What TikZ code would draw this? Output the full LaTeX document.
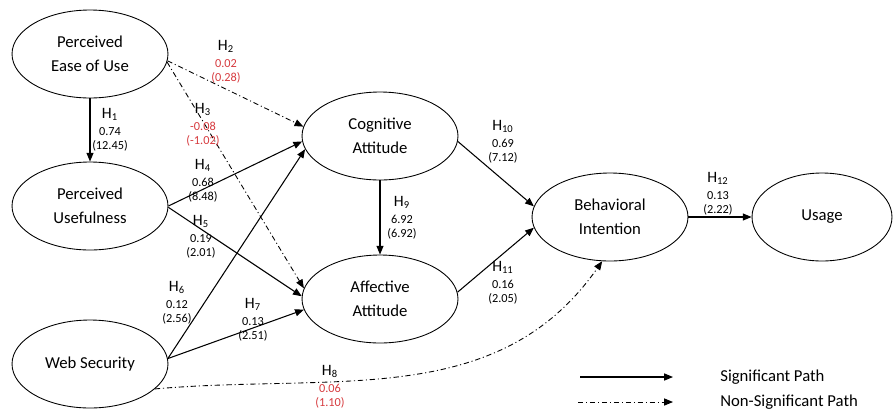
\documentclass[tikz,border=0pt]{standalone}
\usepackage{fontspec}
\setmainfont{Carlito}
\usepackage{tikz}
\usetikzlibrary{arrows.meta, shapes.geometric, positioning}
\usepackage{xcolor}
\definecolor{NSRed}{RGB}{214,58,62}

\newcommand{\hyp}[3]{{\fontsize{9}{8}\selectfont H\textsubscript{#1}}\\[1.5pt]#2\\#3}
\newcommand{\hypns}[3]{{\fontsize{9}{8}\selectfont H\textsubscript{#1}}\\[1.5pt]\textcolor{NSRed}{#2}\\\textcolor{NSRed}{#3}}

\tikzset{
  construct/.style={draw, ellipse, line width=0.5pt, minimum width=3.12cm, minimum height=1.76cm,
                    inner sep=0pt, align=center, font=\fontsize{9.5}{13.6}\selectfont},
  sigpath/.style={-{Triangle[length=5pt,width=4pt]}, line width=0.6pt},
  nspath/.style={-{Triangle[length=5pt,width=4pt]}, line width=0.5pt,
                 dash pattern=on 3pt off 1.6pt on 0.6pt off 1.6pt},
  hlab/.style={align=center, font=\fontsize{7}{8}\selectfont, inner sep=0pt},
  legendtxt/.style={anchor=west, font=\fontsize{9.5}{11}\selectfont, inner sep=0pt}
}

\begin{document}
\begin{tikzpicture}[x=0.02cm, y=-0.02cm]
  \useasboundingbox (0,0) rectangle (893,413);

  % constructs
  \node[construct] (peou) at (90,54)   {Perceived\\Ease of Use};
  \node[construct] (pu)   at (90,206)  {Perceived\\Usefulness};
  \node[construct] (ws)   at (90,364)  {Web Security};
  \node[construct] (cog)  at (380,136) {Cognitive\\Attitude};
  \node[construct] (aff)  at (380,299) {Affective\\Attitude};
  \node[construct] (bi)   at (610,217) {Behavioral\\Intention};
  \node[construct, minimum width=2.8cm] (usage) at (822,217) {Usage};

  % significant paths
  \draw[sigpath] (peou.south) -- (pu.north);
  \draw[sigpath] (pu.0)   -- (cog.184);
  \draw[sigpath] (pu.-1)  -- (aff.178);
  \draw[sigpath] (ws.4)   -- (cog.190);
  \draw[sigpath] (ws.4)   -- (aff.188);
  \draw[sigpath] (cog.south) -- (aff.north);
  \draw[sigpath] (cog.-4) -- (bi.172);
  \draw[sigpath] (aff.5)  -- (bi.188);
  \draw[sigpath] (bi.east) -- (usage.west);

  % non-significant paths
  \draw[nspath] (peou.-5) -- (cog.173);
  \draw[nspath] (peou.-6) -- (aff.172);
  \draw[nspath] (ws.-21) to[out=5, in=-125] (bi.-100);

  % path labels
  \node[hlab] (h1)  at (110,130) {\hyp{1}{0.74}{(12.45)}};
  \node[hlab] (h2)  at (226,62)  {\hypns{2}{0.02}{(0.28)}};
  \node[hlab] (h3)  at (203,125) {\hypns{3}{-0.08}{(-1.02)}};
  \node[hlab] (h4)  at (203,181) {\hyp{4}{0.68}{(8.48)}};
  \node[hlab] (h5)  at (201,237) {\hyp{5}{0.19}{(2.01)}};
  \node[hlab] (h6)  at (177,303) {\hyp{6}{0.12}{(2.56)}};
  \node[hlab] (h7)  at (253,320) {\hyp{7}{0.13}{(2.51)}};
  \node[hlab] (h8)  at (330,387) {\hypns{8}{0.06}{(1.10)}};
  \node[hlab] (h9)  at (402,218) {\hyp{9}{6.92}{(6.92)}};
  \node[hlab] (h10) at (503,142) {\hyp{10}{0.69}{(7.12)}};
  \node[hlab] (h11) at (503,283) {\hyp{11}{0.16}{(2.05)}};
  \node[hlab] (h12) at (718,194) {\hyp{12}{0.13}{(2.22)}};

  % legend
  \coordinate (sigA) at (580,377);
  \coordinate (sigB) at (673,377);
  \coordinate (nsA)  at (578,402);
  \coordinate (nsB)  at (673,402);
  \draw[sigpath] (sigA) -- (sigB);
  \draw[nspath]  (nsA) -- (nsB);
  \node[legendtxt] (siglab) at (720,377) {Significant Path};
  \node[legendtxt] (nslab)  at (720,402) {Non-Significant Path};
\end{tikzpicture}
\end{document}
